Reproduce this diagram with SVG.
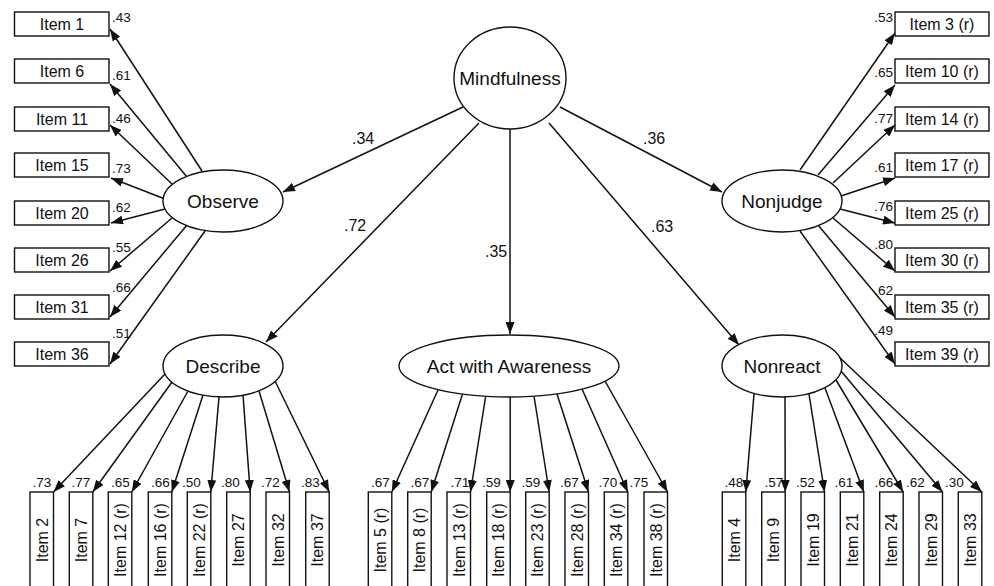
<svg xmlns="http://www.w3.org/2000/svg" width="994" height="586" viewBox="0 0 994 586">
<style>
text{font-family:"Liberation Sans",Arial,Helvetica,sans-serif;fill:#111}
.box{fill:#fff;stroke:#111;stroke-width:1.4}
.lat{fill:#fff;stroke:#111;stroke-width:1.4}
.ln{stroke:#111;stroke-width:1.5;fill:none;marker-end:url(#ah)}
.it{font-size:16px;text-anchor:middle}
.lt{font-size:19px;text-anchor:middle}
.ld{font-size:13.5px}
.pl{font-size:16px}
.e{text-anchor:end}
</style>
<defs>
<marker id="ah" markerUnits="userSpaceOnUse" markerWidth="12" markerHeight="9" refX="12" refY="4.5" orient="auto">
<path d="M0,0 L12,4.5 L0,9 z" fill="#111"/>
</marker>
</defs>
<rect width="994" height="586" fill="#fff"/>

<g id="connectors">
<path class="ln" d="M463,107 L283,192"/>
<path class="ln" d="M479,123 L266,342"/>
<path class="ln" d="M510,129 L510,334"/>
<path class="ln" d="M549,123 L739,345"/>
<path class="ln" d="M560,107 L722,192"/>
<path class="ln" d="M202,171 L110,29"/>
<path class="ln" d="M187,177 L110,84"/>
<path class="ln" d="M172,184 L110,125"/>
<path class="ln" d="M165,199 L111,178"/>
<path class="ln" d="M165,209 L111,223"/>
<path class="ln" d="M172,218 L110,271"/>
<path class="ln" d="M187,225 L110,317"/>
<path class="ln" d="M205,231 L110,364"/>
<path class="ln" d="M800,170 L895,33"/>
<path class="ln" d="M818,175 L895,85"/>
<path class="ln" d="M833,183 L895,125"/>
<path class="ln" d="M841,196 L895,178"/>
<path class="ln" d="M840,209 L895,223"/>
<path class="ln" d="M833,218 L895,271"/>
<path class="ln" d="M818,225 L895,317"/>
<path class="ln" d="M800,231 L895,364"/>
<path class="ln" d="M165,374 L53.5,492"/>
<path class="ln" d="M172,382 L92.8,492"/>
<path class="ln" d="M188,391 L131.8,492"/>
<path class="ln" d="M203,395 L171.8,492"/>
<path class="ln" d="M219,397 L210.8,492"/>
<path class="ln" d="M243,395 L250.2,492"/>
<path class="ln" d="M259,391 L289.5,492"/>
<path class="ln" d="M275,381 L329.2,492"/>
<path class="ln" d="M438,390 L391.8,492"/>
<path class="ln" d="M462.5,394 L431.2,492"/>
<path class="ln" d="M485.7,396 L470.5,492"/>
<path class="ln" d="M510.2,397 L510.2,492"/>
<path class="ln" d="M534,396 L549.2,492"/>
<path class="ln" d="M557,394 L588.5,492"/>
<path class="ln" d="M582,389 L627.8,492"/>
<path class="ln" d="M605,381 L667.5,492"/>
<path class="ln" d="M754,394 L745.8,492"/>
<path class="ln" d="M785,397 L785.2,492"/>
<path class="ln" d="M809,394 L824.5,492"/>
<path class="ln" d="M825,388 L863.8,492"/>
<path class="ln" d="M836,380 L903.2,492"/>
<path class="ln" d="M841,371 L942.5,492"/>
<path class="ln" d="M838,356 L981.8,492"/>
</g>

<g id="path-labels">
<text class="pl" x="352" y="144">.34</text>
<text class="pl" x="643" y="144">.36</text>
<text class="pl" x="344" y="231">.72</text>
<text class="pl" x="485" y="257">.35</text>
<text class="pl" x="651" y="232">.63</text>
</g>

<g id="mindfulness"><ellipse class="lat" cx="510" cy="78" rx="56" ry="51"/><text class="lt" x="510" y="85">Mindfulness</text></g>
<g id="observe"><ellipse class="lat" cx="223" cy="201" rx="60" ry="31"/><text class="lt" x="223" y="208">Observe</text></g>
<g id="nonjudge"><ellipse class="lat" cx="782" cy="201" rx="60" ry="31"/><text class="lt" x="782" y="208">Nonjudge</text></g>
<g id="describe"><ellipse class="lat" cx="223" cy="366" rx="60" ry="31"/><text class="lt" x="223" y="373">Describe</text></g>
<g id="act-with-awareness"><ellipse class="lat" cx="509" cy="366" rx="110" ry="31"/><text class="lt" x="509" y="373">Act with Awareness</text></g>
<g id="nonreact"><ellipse class="lat" cx="782" cy="366" rx="60" ry="31"/><text class="lt" x="782" y="373">Nonreact</text></g>

<g id="item1"><rect class="box" x="14.5" y="12" width="94.5" height="24"/><text class="it" x="62" y="29.5">Item 1</text><text class="ld" x="112" y="22">.43</text></g>
<g id="item6"><rect class="box" x="14.5" y="59" width="94.5" height="24"/><text class="it" x="62" y="76.5">Item 6</text><text class="ld" x="112" y="80">.61</text></g>
<g id="item11"><rect class="box" x="14.5" y="107" width="94.5" height="24"/><text class="it" x="62" y="124.5">Item 11</text><text class="ld" x="112" y="123">.46</text></g>
<g id="item15"><rect class="box" x="14.5" y="153" width="94.5" height="24"/><text class="it" x="62" y="170.5">Item 15</text><text class="ld" x="112" y="173">.73</text></g>
<g id="item20"><rect class="box" x="14.5" y="201" width="94.5" height="24"/><text class="it" x="62" y="218.5">Item 20</text><text class="ld" x="112" y="212">.62</text></g>
<g id="item26"><rect class="box" x="14.5" y="248" width="94.5" height="24"/><text class="it" x="62" y="265.5">Item 26</text><text class="ld" x="112" y="252">.55</text></g>
<g id="item31"><rect class="box" x="14.5" y="295" width="94.5" height="24"/><text class="it" x="62" y="312.5">Item 31</text><text class="ld" x="112" y="292">.66</text></g>
<g id="item36"><rect class="box" x="14.5" y="342" width="94.5" height="24"/><text class="it" x="62" y="359.5">Item 36</text><text class="ld" x="112" y="338">.51</text></g>

<g id="item3"><rect class="box" x="895" y="12" width="94" height="24"/><text class="it" x="942" y="29.5">Item 3 (r)</text><text class="ld e" x="893" y="22">.53</text></g>
<g id="item10"><rect class="box" x="895" y="59" width="94" height="24"/><text class="it" x="942" y="76.5">Item 10 (r)</text><text class="ld e" x="893" y="77">.65</text></g>
<g id="item14"><rect class="box" x="895" y="107" width="94" height="24"/><text class="it" x="942" y="124.5">Item 14 (r)</text><text class="ld e" x="893" y="123">.77</text></g>
<g id="item17"><rect class="box" x="895" y="153" width="94" height="24"/><text class="it" x="942" y="170.5">Item 17 (r)</text><text class="ld e" x="893" y="172">.61</text></g>
<g id="item25"><rect class="box" x="895" y="201" width="94" height="24"/><text class="it" x="942" y="218.5">Item 25 (r)</text><text class="ld e" x="893" y="211">.76</text></g>
<g id="item30"><rect class="box" x="895" y="248" width="94" height="24"/><text class="it" x="942" y="265.5">Item 30 (r)</text><text class="ld e" x="893" y="249">.80</text></g>
<g id="item35"><rect class="box" x="895" y="295" width="94" height="24"/><text class="it" x="942" y="312.5">Item 35 (r)</text><text class="ld e" x="893" y="295">.62</text></g>
<g id="item39"><rect class="box" x="895" y="342" width="94" height="24"/><text class="it" x="942" y="359.5">Item 39 (r)</text><text class="ld e" x="893" y="335">.49</text></g>

<g id="item2"><rect class="box" x="30" y="492" width="23.5" height="100"/><text class="it" transform="translate(47.5,540) rotate(-90)">Item 2</text><text class="ld" x="32.5" y="487">.73</text></g>
<g id="item7"><rect class="box" x="69.3" y="492" width="23.5" height="100"/><text class="it" transform="translate(86.8,540) rotate(-90)">Item 7</text><text class="ld" x="71.5" y="487">.77</text></g>
<g id="item12"><rect class="box" x="108.3" y="492" width="23.5" height="100"/><text class="it" transform="translate(125.8,540) rotate(-90)">Item 12 (r)</text><text class="ld" x="111" y="487">.65</text></g>
<g id="item16"><rect class="box" x="148.3" y="492" width="23.5" height="100"/><text class="it" transform="translate(165.8,540) rotate(-90)">Item 16 (r)</text><text class="ld" x="151" y="487">.66</text></g>
<g id="item22"><rect class="box" x="187.3" y="492" width="23.5" height="100"/><text class="it" transform="translate(204.8,540) rotate(-90)">Item 22 (r)</text><text class="ld" x="182" y="487">.50</text></g>
<g id="item27"><rect class="box" x="226.7" y="492" width="23.5" height="100"/><text class="it" transform="translate(244.2,540) rotate(-90)">Item 27</text><text class="ld" x="221" y="487">.80</text></g>
<g id="item32"><rect class="box" x="266" y="492" width="23.5" height="100"/><text class="it" transform="translate(283.5,540) rotate(-90)">Item 32</text><text class="ld" x="261" y="487">.72</text></g>
<g id="item37"><rect class="box" x="305.7" y="492" width="23.5" height="100"/><text class="it" transform="translate(323.2,540) rotate(-90)">Item 37</text><text class="ld" x="301" y="487">.83</text></g>

<g id="item5"><rect class="box" x="368.3" y="492" width="23.5" height="100"/><text class="it" transform="translate(385.8,540) rotate(-90)">Item 5 (r)</text><text class="ld" x="371" y="487">.67</text></g>
<g id="item8"><rect class="box" x="407.7" y="492" width="23.5" height="100"/><text class="it" transform="translate(425.2,540) rotate(-90)">Item 8 (r)</text><text class="ld" x="410.5" y="487">.67</text></g>
<g id="item13"><rect class="box" x="447" y="492" width="23.5" height="100"/><text class="it" transform="translate(464.5,540) rotate(-90)">Item 13 (r)</text><text class="ld" x="450.5" y="487">.71</text></g>
<g id="item18"><rect class="box" x="486.7" y="492" width="23.5" height="100"/><text class="it" transform="translate(504.2,540) rotate(-90)">Item 18 (r)</text><text class="ld" x="482" y="487">.59</text></g>
<g id="item23"><rect class="box" x="525.7" y="492" width="23.5" height="100"/><text class="it" transform="translate(543.2,540) rotate(-90)">Item 23 (r)</text><text class="ld" x="521.5" y="487">.59</text></g>
<g id="item28"><rect class="box" x="565" y="492" width="23.5" height="100"/><text class="it" transform="translate(582.5,540) rotate(-90)">Item 28 (r)</text><text class="ld" x="560" y="487">.67</text></g>
<g id="item34"><rect class="box" x="604.3" y="492" width="23.5" height="100"/><text class="it" transform="translate(621.8,540) rotate(-90)">Item 34 (r)</text><text class="ld" x="598.5" y="487">.70</text></g>
<g id="item38"><rect class="box" x="644" y="492" width="23.5" height="100"/><text class="it" transform="translate(661.5,540) rotate(-90)">Item 38 (r)</text><text class="ld" x="629.5" y="487">.75</text></g>

<g id="item4"><rect class="box" x="722.3" y="492" width="23.5" height="100"/><text class="it" transform="translate(739.8,540) rotate(-90)">Item 4</text><text class="ld" x="724.5" y="487">.48</text></g>
<g id="item9"><rect class="box" x="761.7" y="492" width="23.5" height="100"/><text class="it" transform="translate(779.2,540) rotate(-90)">Item 9</text><text class="ld" x="764.5" y="487">.57</text></g>
<g id="item19"><rect class="box" x="801" y="492" width="23.5" height="100"/><text class="it" transform="translate(818.5,540) rotate(-90)">Item 19</text><text class="ld" x="796" y="487">.52</text></g>
<g id="item21"><rect class="box" x="840.3" y="492" width="23.5" height="100"/><text class="it" transform="translate(857.8,540) rotate(-90)">Item 21</text><text class="ld" x="834.5" y="487">.61</text></g>
<g id="item24"><rect class="box" x="879.7" y="492" width="23.5" height="100"/><text class="it" transform="translate(897.2,540) rotate(-90)">Item 24</text><text class="ld" x="874.5" y="487">.66</text></g>
<g id="item29"><rect class="box" x="919" y="492" width="23.5" height="100"/><text class="it" transform="translate(936.5,540) rotate(-90)">Item 29</text><text class="ld" x="906" y="487">.62</text></g>
<g id="item33"><rect class="box" x="958.3" y="492" width="23.5" height="100"/><text class="it" transform="translate(975.8,540) rotate(-90)">Item 33</text><text class="ld" x="945" y="487">.30</text></g>
</svg>
